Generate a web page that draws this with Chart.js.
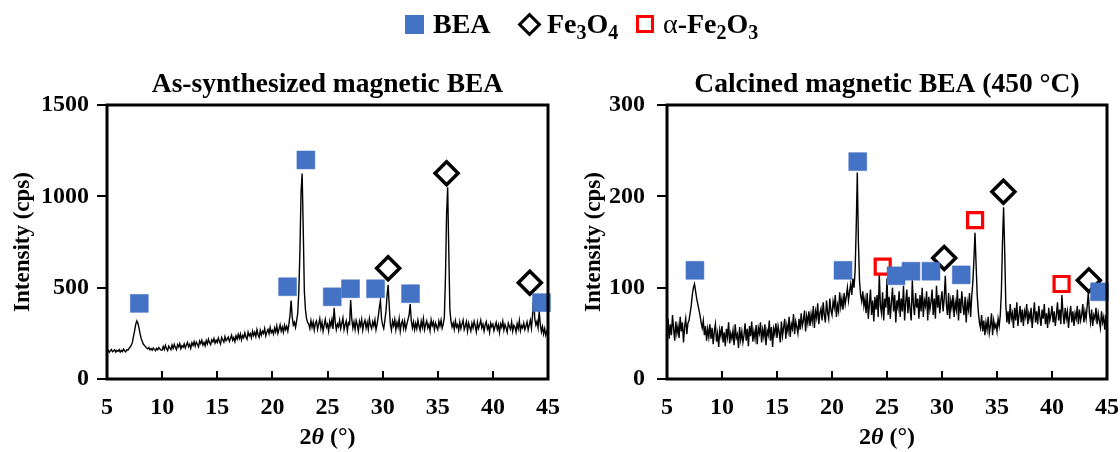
<!DOCTYPE html>
<html>
<head>
<meta charset="utf-8">
<script src="https://cdn.jsdelivr.net/npm/chart.js@4.4.1/dist/chart.umd.min.js"></script>
<style>
  html, body { margin: 0; padding: 0; background: #fff; }
  #wrap { position: relative; width: 1120px; height: 452px; overflow: hidden; font-family: "Liberation Serif", "Times New Roman", serif; }
  .panel { position: absolute; top: 0; height: 452px; }
  #legend { position: absolute; top: 0; left: 0; width: 1120px; height: 48px; font-weight: bold; font-size: 28px; color: #000; }
  #legend > span { position: absolute; }
  #legend .txt { top: 7px; line-height: 34px; white-space: nowrap; }
  #legend sub { font-size: 20px; vertical-align: -6px; line-height: 0; }
  .sw { box-sizing: border-box; }
  .sw-bea { left: 405px; top: 15px; width: 19px; height: 19px; background: #4472C4; }
  .sw-mag { left: 521px; top: 16px; width: 17px; height: 17px; border: 3.5px solid #000; transform: rotate(45deg); }
  .sw-hem { left: 636px; top: 15px; width: 18px; height: 18px; border: 3px solid #ff0000; }
  .alpha { font-weight: normal; }
</style>
</head>
<body>
<div id="wrap">
  <canvas id="left" class="panel" style="left:0;width:566px" width="566" height="452"></canvas>
  <canvas id="right" class="panel" style="left:560px;width:565px" width="565" height="452"></canvas>
  <div id="legend">
    <span class="sw sw-bea"></span><span class="txt" style="left:433px">BEA</span>
    <span class="sw sw-mag"></span><span class="txt" style="left:547px">Fe<sub>3</sub>O<sub>4</sub></span>
    <span class="sw sw-hem"></span><span class="txt" style="left:663px"><span class="alpha">α</span>-Fe<sub>2</sub>O<sub>3</sub></span>
  </div>
</div>
<script>
// 스캔 조건 (2θ, 0.1° 간격)
const scanStart = 5;
const scanStep = 0.1;

// 합성 직후 시료 강도 (cps), 1°당 한 줄
const asSynthCps = [
  150,158,146,155,162,149,153,160,147,156,
  152,161,148,157,150,163,155,149,160,158,
  168,175,185,200,232,262,298,318,306,280,
  248,222,205,190,184,176,170,165,172,160,
  166,158,170,162,155,168,160,172,164,158,
  158,178,162,184,166,155,180,170,160,186,
  168,190,172,160,188,176,194,166,182,174,
  192,170,186,200,176,190,168,198,184,204,
  180,202,190,176,208,194,212,186,200,182,
  210,192,218,198,188,214,204,222,196,212,
  200,224,206,192,228,214,202,232,210,220,
  230,206,222,240,212,226,204,236,218,244,
  222,246,214,238,226,252,230,218,256,236,
  248,226,262,238,256,232,270,244,228,266,
  240,262,250,276,236,258,272,248,282,254,
  266,246,280,258,290,250,272,296,262,284,
  256,294,270,288,262,300,350,430,340,296,
  310,282,320,360,480,700,1020,1125,820,480,
  380,330,310,300,276,320,284,312,268,306,
  318,272,300,330,278,310,262,296,326,284,
  300,262,316,290,326,274,390,312,270,300,
  286,322,276,304,334,270,298,318,264,308,
  300,432,330,280,312,272,320,296,262,316,
  290,326,268,304,322,280,310,272,330,294,
  276,314,290,324,270,300,340,390,430,330,
  296,276,320,370,455,515,400,300,268,318,
  292,326,270,310,284,330,262,304,320,278,
  316,272,300,326,350,410,320,280,312,270,
  304,276,322,290,266,316,284,330,270,298,
  318,280,300,264,324,292,312,270,306,286,
  270,316,290,322,278,300,340,560,900,1050,
  700,380,316,286,306,272,318,284,298,266,
  312,276,300,322,270,290,314,262,306,284,
  262,304,280,316,290,258,310,276,296,322,
  280,300,262,296,314,274,292,256,306,286,
  300,264,290,310,272,296,254,302,284,316,
  268,298,280,256,306,288,272,312,262,294,
  286,258,302,276,320,264,292,280,306,270,
  290,312,268,296,322,278,350,450,330,296,
  316,280,370,300,258,286,246,276,240,262,
  250
];

// 450 °C 소성 시료 강도 (cps)
const calcinedCps = [
  52,66,44,60,48,70,55,42,63,50,
  58,45,68,52,62,40,57,66,49,61,
  64,72,80,92,100,104,96,88,82,76,
  70,62,56,64,48,58,42,55,46,60,
  44,56,38,52,60,41,50,35,54,47,
  58,40,51,36,55,46,62,39,50,44,
  53,37,60,45,49,34,57,43,52,40,
  48,61,42,55,36,58,47,63,41,52,
  44,59,38,56,50,62,40,54,46,60,
  37,53,48,64,42,57,35,55,49,61,
  45,58,51,40,63,47,56,66,44,59,
  52,68,46,60,55,71,49,63,57,50,
  66,54,72,58,64,75,52,69,61,74,
  58,71,63,80,56,74,67,83,60,72,
  77,64,84,70,62,86,73,66,88,75,
  70,85,78,92,68,81,74,95,79,88,
  76,94,82,90,100,86,96,104,92,110,
  100,118,165,226,150,108,92,85,96,80,
  88,72,94,66,82,98,70,86,63,90,
  76,92,68,115,80,72,95,64,88,78,
  110,70,90,66,84,100,74,92,62,86,
  78,96,68,88,74,102,64,84,98,72,
  90,76,64,108,82,70,94,78,88,66,
  92,74,100,68,86,80,96,64,90,76,
  84,98,70,88,66,102,78,92,72,86,
  96,74,88,113,82,70,94,66,86,78,
  92,68,84,76,98,64,88,72,96,80,
  70,90,62,84,76,94,68,90,105,130,
  160,125,92,74,62,56,70,52,64,48,
  62,54,68,50,58,72,48,64,56,60,
  52,66,58,70,96,150,188,140,82,62,
  74,60,82,66,72,56,78,64,84,58,
  70,80,62,76,58,74,68,82,60,72,
  66,78,56,70,84,62,74,60,80,68,
  58,76,66,82,60,72,56,78,64,70,
  80,62,74,58,70,84,64,76,60,92,
  72,60,78,66,74,56,70,80,62,74,
  58,72,66,80,60,76,64,70,82,62,
  74,66,80,94,72,62,76,58,70,66,
  78,60,72,64,56,74,62,68,54,70,
  60
];

// 피크 표시 위치 (2θ, cps)
const beaLeftX = [7.93, 21.38, 23.04, 25.43, 27.09, 29.36, 32.53, 44.41];
const beaLeftY = [414, 505, 1199, 450, 494, 494, 467, 418];
const magLeftX = [30.5, 35.8, 43.35];
const magLeftY = [606, 1126, 527];

const beaRightX = [7.54, 21.0, 22.34, 25.82, 27.18, 29.0, 31.75, 44.32];
const beaRightY = [119, 119, 238, 113, 118, 118, 114, 95.5];
const magRightX = [30.2, 35.58, 43.35];
const magRightY = [132.5, 205, 108];
const hemRightX = [24.61, 33.01, 40.87];
const hemRightY = [123, 174, 104];

// 축 눈금
const xTicks = [5, 10, 15, 20, 25, 30, 35, 40, 45];
const leftYTicks = [0, 500, 1000, 1500];
const rightYTicks = [0, 100, 200, 300];

const FONT = '"Liberation Serif", "Times New Roman", serif';

const toPoints = (xs, ys) => xs.map((x, i) => ({ x, y: ys[i] }));
const toTrace = (vals) => vals.map((y, i) => ({ x: scanStart + i * scanStep, y }));

// 테두리, 안쪽 x 눈금, 패널 제목, x축 제목
const framePlugin = {
  id: "frame",
  afterDraw(chart, args, opts) {
    const { ctx, chartArea: a, scales } = chart;
    ctx.save();
    ctx.strokeStyle = "#000";
    ctx.lineWidth = 2;
    xTicks.forEach((v) => {
      const px = Math.round(scales.x.getPixelForValue(v));
      ctx.beginPath();
      ctx.moveTo(px, a.bottom);
      ctx.lineTo(px, a.bottom - 8);
      ctx.stroke();
    });
    ctx.lineWidth = 3;
    ctx.strokeRect(a.left, a.top, a.right - a.left, a.bottom - a.top);

    const cx = (a.left + a.right) / 2;
    ctx.fillStyle = "#000";
    ctx.textBaseline = "middle";
    ctx.textAlign = "center";
    ctx.font = `bold 27.5px ${FONT}`;
    ctx.fillText(opts.title, cx, a.top - 20);

    // 2θ (°)
    const parts = [
      ["2", `bold 24px ${FONT}`],
      ["θ", `italic bold 24px ${FONT}`],
      [" (°)", `bold 24px ${FONT}`],
    ];
    let total = 0;
    parts.forEach(([t, f]) => { ctx.font = f; total += ctx.measureText(t).width; });
    let x = cx - total / 2;
    ctx.textAlign = "left";
    parts.forEach(([t, f]) => {
      ctx.font = f;
      ctx.fillText(t, x, 438);
      x += ctx.measureText(t).width;
    });
    ctx.restore();
  },
};

const makeChart = (id, cfg) => {
  const ctx = document.getElementById(id).getContext("2d");
  return new Chart(ctx, {
    type: "scatter",
    data: {
      datasets: [
        {
          type: "line",
          data: toTrace(cfg.trace),
          borderColor: "#000",
          borderWidth: 1.4,
          pointRadius: 0,
          fill: false,
          order: 3,
        },
        ...cfg.markers,
      ],
    },
    options: {
      responsive: false,
      animation: false,
      devicePixelRatio: 1,
      layout: { padding: { top: 105, right: 0, bottom: 0, left: 0 } },
      plugins: {
        legend: { display: false },
        tooltip: { enabled: false },
        frame: { title: cfg.title },
      },
      scales: {
        x: {
          type: "linear",
          min: 5,
          max: 45,
          afterBuildTicks: (s) => { s.ticks = xTicks.map((v) => ({ value: v })); },
          afterFit: (s) => { s.height = 73; },
          grid: { display: false },
          border: { display: false },
          ticks: { color: "#000", padding: 6, font: { family: FONT, size: 24, weight: "bold" } },
        },
        y: {
          min: cfg.yTicks[0],
          max: cfg.yTicks[cfg.yTicks.length - 1],
          afterBuildTicks: (s) => { s.ticks = cfg.yTicks.map((v) => ({ value: v })); },
          afterFit: (s) => { s.width = 107; },
          grid: { drawOnChartArea: false, drawTicks: true, tickLength: 10, color: "#000", lineWidth: 2 },
          border: { display: false },
          ticks: {
            color: "#000",
            padding: cfg.tickPad,
            font: { family: FONT, size: 24, weight: "bold" },
            callback: (v) => String(v),
          },
          title: {
            display: true,
            text: "Intensity (cps)",
            color: "#000",
            padding: { top: cfg.titlePad, bottom: 0 },
            font: { family: FONT, size: 23, weight: "bold" },
          },
        },
      },
    },
    plugins: [framePlugin],
  });
};

const beaStyle = { pointStyle: "rect", pointRadius: 12.7, backgroundColor: "#4472C4", borderColor: "#4472C4", borderWidth: 0.5, order: 0, clip: false };
const magStyle = { pointStyle: "rectRot", pointRadius: 11.5, backgroundColor: "rgba(255,255,255,0)", borderColor: "#000", borderWidth: 3.5, order: 1, clip: false };
const hemStyle = { pointStyle: "rect", pointRadius: 10.6, backgroundColor: "rgba(255,255,255,0)", borderColor: "#ff0000", borderWidth: 3.2, order: 2, clip: false };

makeChart("left", {
  title: "As-synthesized magnetic BEA",
  trace: asSynthCps,
  yTicks: leftYTicks,
  tickPad: 8,
  titlePad: 9,
  markers: [
    { data: toPoints(beaLeftX, beaLeftY), ...beaStyle },
    { data: toPoints(magLeftX, magLeftY), ...magStyle },
  ],
});

makeChart("right", {
  title: "Calcined magnetic BEA (450 °C)",
  trace: calcinedCps,
  yTicks: rightYTicks,
  tickPad: 12,
  titlePad: 20,
  markers: [
    { data: toPoints(beaRightX, beaRightY), ...beaStyle },
    { data: toPoints(magRightX, magRightY), ...magStyle },
    { data: toPoints(hemRightX, hemRightY), ...hemStyle },
  ],
});
</script>
</body>
</html>
